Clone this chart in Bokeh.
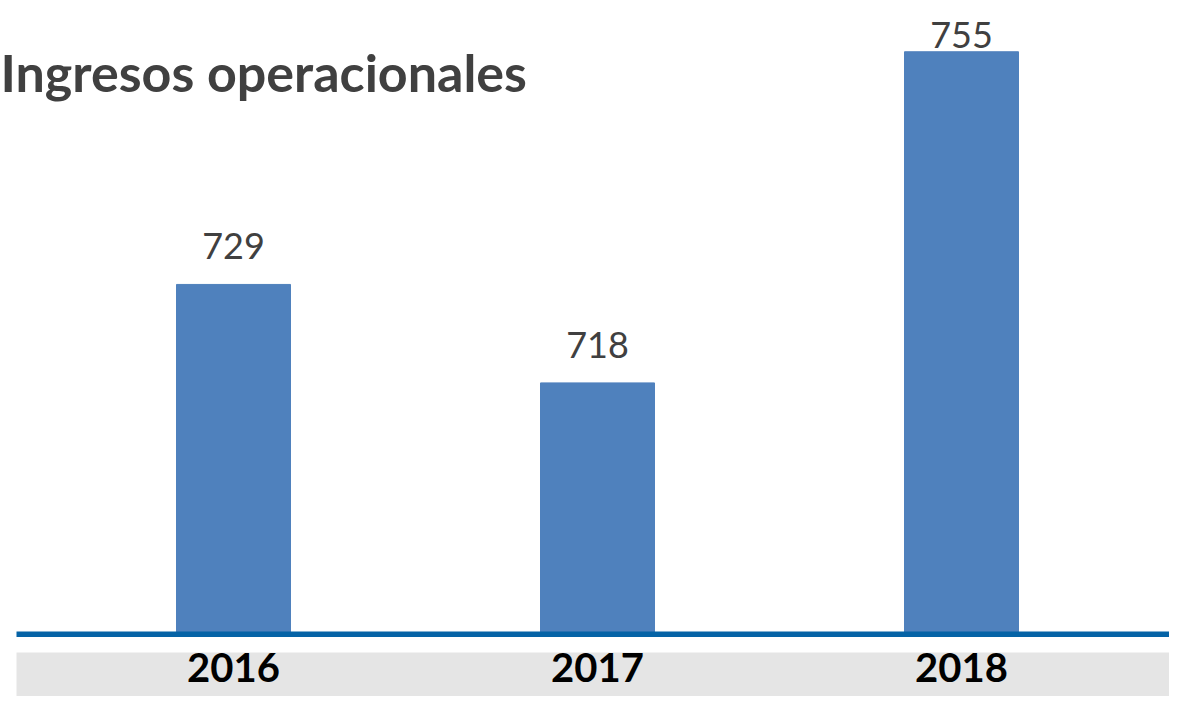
from bokeh.plotting import figure
from bokeh.models import Range1d, BoxAnnotation, Label
from bokeh.core.properties import value
from bokeh.embed import file_html
from bokeh.resources import INLINE

# ---- data ----
years = ["2016", "2017", "2018"]
ingresos = [729, 718, 755]
title_text = "Ingresos operacionales"
axis_min = 690  # value at the baseline

# ---- layout ----
W, H = 1169, 696
PX_X = 364.0     # pixels per category
PX_Y = 8.95      # pixels per unit
x_start = -233 / PX_X
x_end = x_start + W / PX_X
base_y = 633
y_end = axis_min + base_y / PX_Y
y_start = y_end - H / PX_Y


def px_to_x(px):
    return x_start + px / PX_X


def px_to_y(py):
    return y_end - py / PX_Y


p = figure(width=W, height=H, output_backend="svg", toolbar_location=None,
           x_range=Range1d(x_start, x_end), y_range=Range1d(y_start, y_end),
           min_border=0)
p.axis.visible = False
p.grid.visible = False
p.outline_line_color = None
p.background_fill_color = "white"
p.border_fill_color = "white"

xs = list(range(len(years)))

# gray band under categories
p.add_layout(BoxAnnotation(left=px_to_x(16), right=x_end, top=px_to_y(652), bottom=y_start,
                           fill_color="#E5E5E5", fill_alpha=1, line_color=None, level="underlay"))

p.vbar(x=xs, top=ingresos, bottom=axis_min, width=114 / PX_X,
       fill_color="#4F81BD", line_color="#4F81BD")

# baseline
p.add_layout(BoxAnnotation(left=px_to_x(16), right=x_end, top=px_to_y(631), bottom=px_to_y(636.5),
                           fill_color="#0563A6", fill_alpha=1, line_color=None))

# value labels
label_y = [min(v + 38 / PX_Y, px_to_y(34)) for v in ingresos]
p.text(x=xs, y=label_y, text=[str(v) for v in ingresos],
       text_font=value("Lato"), text_font_size="36px", text_color="#404040",
       text_align="center", text_baseline="alphabetic")

# category labels
p.text(x=xs, y=[px_to_y(667)] * len(xs), text=years,
       text_font=value("Lato"), text_font_size="40px", text_font_style="bold",
       text_color="#000000", text_align="center", text_baseline="alphabetic")

# title
p.add_layout(Label(x=px_to_x(0), y=px_to_y(71), text=title_text,
                   text_font="Lato", text_font_size="52px", text_font_style="bold",
                   text_color="#404040", text_align="left", text_baseline="alphabetic"))

open("out.html", "w").write(file_html(p, INLINE))
